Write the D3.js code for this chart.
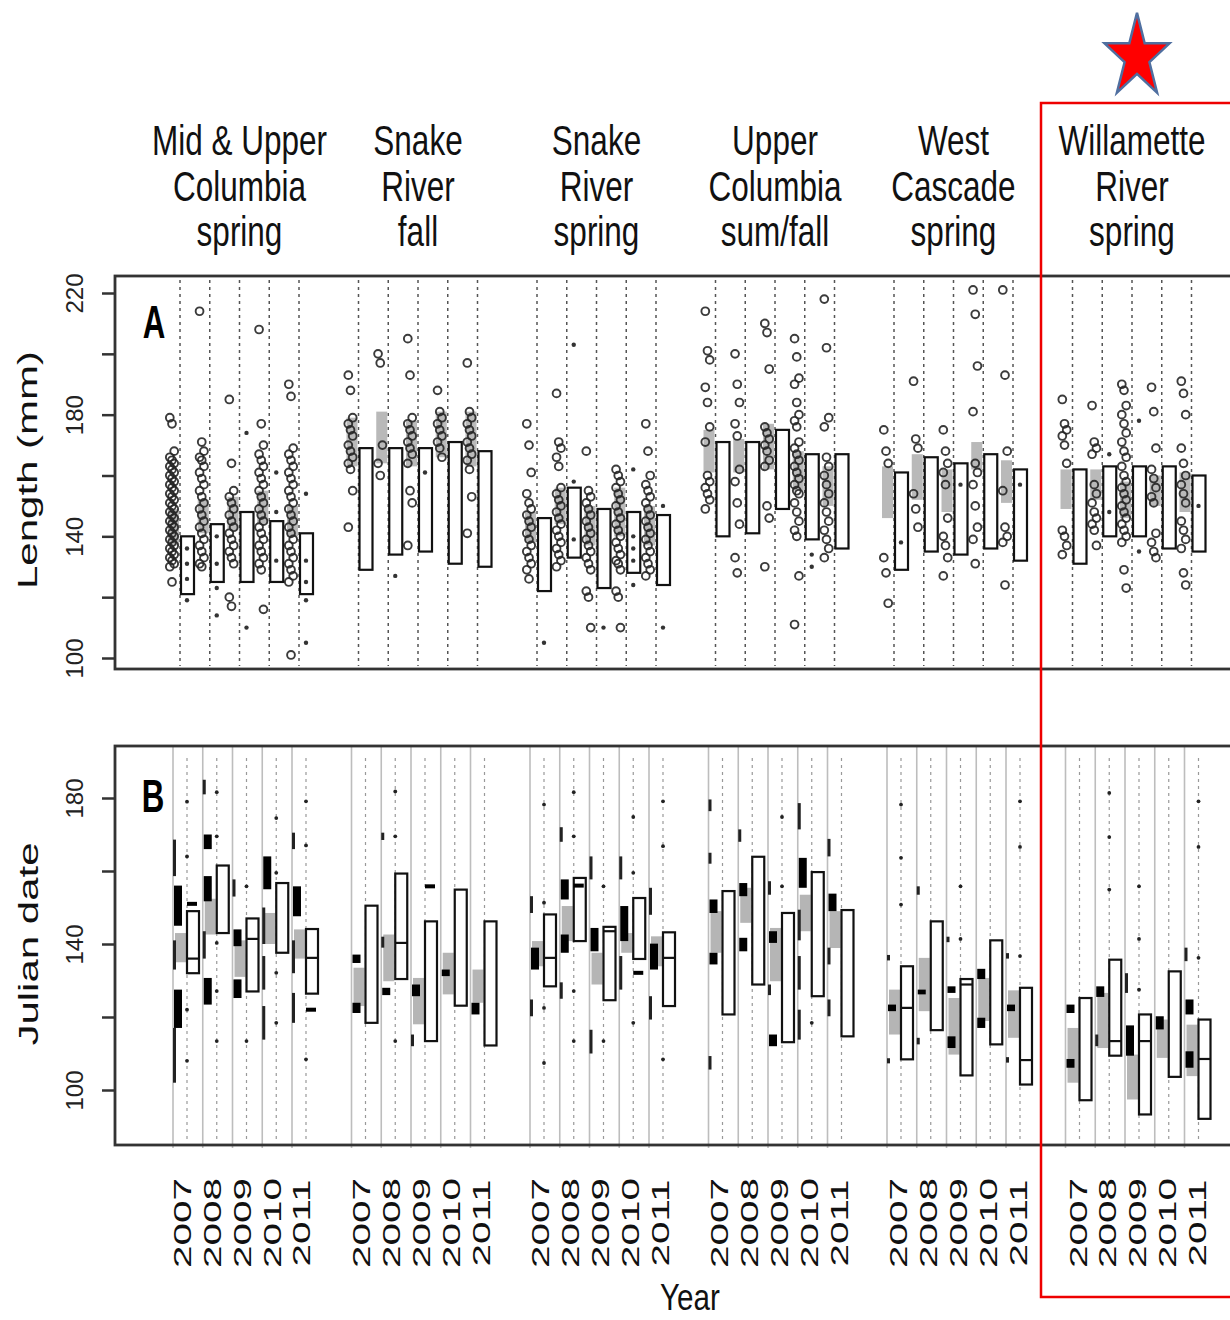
<!DOCTYPE html>
<html><head><meta charset="utf-8">
<script src="https://cdn.jsdelivr.net/npm/d3@7"></script>
<style>body{margin:0;background:#fff}svg{display:block}text{font-family:"Liberation Sans",Arial,Helvetica,sans-serif}</style>
</head><body><svg id="c" width="1230" height="1320"></svg>
<script>
// ---------- categories ----------
const groupTitles = [
  ["Mid & Upper","Columbia","spring"],
  ["Snake","River","fall"],
  ["Snake","River","spring"],
  ["Upper","Columbia","sum/fall"],
  ["West","Cascade","spring"],
  ["Willamette","River","spring"]
];
const years = ["2007","2008","2009","2010","2011"];
const yTicksA = [100,120,140,160,180,200,220];
const yLabelsA = [100,140,180,220];
const yTicksB = [100,120,140,160,180];
const yLabelsB = [100,140,180];

// ---------- Panel A: Length (mm) ----------
const grayA = [
  [137,149],[141,152],[142,153],[144,155],[140,150],
  [163,179],[164,181],[163,178],[166,181],[163,181],
  [138,148],[144,156],[137,150],[140,156],[137,150],
  [161,175],[161,172],[162,177],[155,168],[150,163],
  [146,163],[152,167],[148,162],[162,171],[151,165],
  [149,162],[152,162],[146,158],[150,160],[148,161]
];
const whiteA = [
  [121,140],[125,144],[125,148],[125,145],[121,141],
  [129,169],[134,169],[135,169],[131,171],[130,168],
  [122,146],[133,156],[123,149],[128,148],[124,147],
  [140,171],[141,171],[149,175],[139,167],[136,167],
  [129,161],[135,166],[134,164],[136,167],[132,162],
  [131,162],[140,163],[140,163],[136,163],[135,160]
];
const circlesA = [
  [179,177,168,166,165,164,163,162,161,160,159,158,157,156,155,154,153,152,151,150,149,148,147,146,145,144,143,142,141,140,139,138,137,136,135,134,133,132,131,130,125],
  [214,171,168,166,165,163,161,159,157,155,153,151,149,147,145,143,141,139,137,135,133,131,130],
  [185,164,155,153,151,149,147,145,143,141,139,137,135,133,131,120,117],
  [208,177,170,167,165,163,161,159,157,155,153,151,149,147,145,143,141,139,137,135,133,131,129,116],
  [190,186,169,167,165,163,161,159,157,155,153,151,149,147,145,143,141,139,137,135,133,131,129,127,125,101],
  [193,188,179,177,175,173,170,168,166,164,162,155,143],
  [200,197,170,164,160],
  [205,193,179,177,175,173,171,169,167,164,155,151,137],
  [188,181,179,177,175,173,171,169,166],
  [197,181,179,177,175,173,171,169,167,165,162,153,141],
  [177,170,161,154,151,149,147,145,143,141,139,137,135,133,131,129,126],
  [187,171,169,166,163,156,154,152,150,148,146,144,142,140,138,136,134,132,130],
  [168,155,153,151,149,147,145,143,141,139,137,135,133,131,129,122,120,110],
  [162,160,158,156,154,152,150,148,146,144,142,140,138,136,134,132,131,129,122,120,110],
  [177,168,160,157,155,153,151,149,147,145,143,141,139,137,135,133,131,129,127],
  [214,201,198,189,184,176,171,160,158,156,154,152,149],
  [200,190,184,177,173,162,158,151,144,133,128],
  [210,207,195,176,174,172,170,168,165,163,150,146,130],
  [205,199,192,190,184,180,178,176,171,169,167,165,163,161,159,157,155,154,151,148,145,142,140,127,111],
  [218,202,179,176,166,163,160,157,154,151,148,145,142,139,136,133],
  [175,168,164,133,128,118],
  [191,172,169,154,149,143],
  [175,168,164,161,157,146,140,137,133,127],
  [221,213,196,181,164,161,157,150,143,139,131],
  [221,193,168,155,143,140,138,124],
  [185,177,175,173,170,164,142,140,137,134],
  [183,171,169,167,157,154,151,148,146,144,142,137],
  [190,188,183,180,177,174,171,168,166,163,160,158,156,154,152,150,148,146,144,142,140,138,129,123],
  [189,181,169,162,159,156,153,151,141,138,135,133],
  [191,187,180,169,164,160,157,154,151,145,142,139,136,128,124]
];
const dotsA = [
  [136,131,126,119],[140,131,123,114],[174,110],[161,148,132],[154,132,125,119,105],
  [],[127],[161],[],[],
  [105],[203,158,139],[110],[162,140,136,132,124],[150,110],
  [],[],[],[134,130],[],
  [138],[],[157],[],[157],
  [],[167,148],[178,135],[],[150]
];

// ---------- Panel B: Julian date ----------
const grayB = [
  [135,143],[142.6,152.4],[131,141],[140,148.5],[136,144],
  [123,133.5],[129.8,142.6],[118,130.7],[126.2,137.6],[123.9,133],
  [133.9,140.8],[140.8,150.4],[128.9,137.6],[137.6,143],[133.9,142.1],
  [137.6,149],[145.8,155.4],[129.8,144.4],[143.5,153.5],[138.9,149],
  [115.2,127.5],[121.6,136.2],[109.7,125.2],[118.9,130.7],[114.3,127.3],
  [102,117],[111.5,126.6],[97.4,109.7],[108.8,119.3],[103.8,117.9]
];
const whiteB = [
  [132,149],[143,161.5],[127,147],[137.6,156.7],[126.4,144.1],
  [118.4,150.5],[130.4,159.3],[113.4,146.2],[123.1,154.9],[112.2,146.2],
  [128.4,148.1],[140.8,158.1],[124.6,144.7],[135.9,152.6],[123,143.2],
  [120.7,154.5],[128.9,163.9],[113.1,148.5],[125.7,159.7],[114.7,149.3],
  [108.4,133.9],[116.4,146.2],[104,130.4],[112.5,141],[101.5,128],
  [97.2,125.2],[109.4,135.7],[93.3,120.7],[103.6,132.5],[92.1,119.3]
];
const medianB = [
  136,null,141.4,null,136.2,
  null,140.3,null,null,null,
  136.2,null,143.5,null,136.2,
  null,null,null,null,null,
  122.5,null,128.9,null,108.2,
  null,113.4,113.4,null,108.5
];
const thickB = [
  [[145,156],[117,127.5]],[[151.7,158.6],[123.4,130.7],[166,170]],[[139.4,144],[125.2,130.3]],[[155,164]],[[147.6,155.8]],
  [[134.8,137.1],[121.1,123.9]],[[126,128]],[[125.7,128.9]],[[131.2,133]],[[120.7,123.9]],
  [[133,139]],[[152.2,157.7],[137.6,142.6]],[[138,144.4]],[[140.8,150.4]],[[133,140.1]],
  [[148.5,152.2],[134.4,137.6]],[[153.1,156.7],[138,141.7]],[[140.3,143.5],[112,115.2]],[[155.4,163.6]],[[149,153.8]],
  [[121.6,123.4]],[[126.2,127.5]],[[126.6,128.4],[111.5,114.7]],[[130.4,133.2],[117,119.8]],[[121.6,123.4]],
  [[121.1,123.4],[106.1,108.5]],[[125.5,128.4]],[[109.4,117.7]],[[116.6,120.2]],[[120.7,124.8],[106.1,110.6]]
];
const thinB = [
  [[158.6,168.6],[133,141],[102,117]],[[181,185],[136,143.5]],[[153,157.7]],[[140,150],[127.5,136.7],[113.8,123]],[[166,170.5],[132,141],[118.4,126.6]],
  [],[[168.5,170.5],[139,142]],[[112,115.2]],[],[],
  [[148.5,153.1],[120.2,124.8]],[[168,172],[125,129.5]],[[157.7,164],[110,116.5]],[[157.7,164],[127.5,136.7]],[[148,155.4],[119.3,125.7]],
  [[176.4,179.6],[162,165],[105.6,109.3]],[[168,171.4]],[[153.5,157.2],[126,128.9]],[[171.4,178.6],[141,149.4],[127.5,136.7],[113.8,122]],[[164,168.8],[134.4,139],[120.2,124.8]],
  [[135.5,137],[107.3,108.7]],[[153.5,155.8],[112.5,114.3]],[[140.5,142]],[],[[136,137.5],[107.5,109]],
  [],[[112,115.2]],[[126.6,132]],[],[[135.3,139]]
];
const barsB = [
  [151],[],[],[],[122],
  [],[],[155.8],[],[],
  [],[156],[],[132.1],[],
  [],[],[],[],[],
  [],[],[],[],[],
  [],[],[],[],[]
];
const dotsB = [
  [179,164,122,108],[181.6,169.5,140.3,127.1,113.4],[155.8,113.4],[174.5,159.5,132.1,118.4],[179.1,167,108.4],
  [],[181.8,169.5,113.4],[],[],[],
  [178.2,151.3,122.5,107.4],[181.6,169.5,127.1,113.4],[155.8,113.4],[174.8,159.5,118.4],[179.1,166.8,108.4],
  [],[],[174.8,155.8],[118.4],[],
  [178.2,163.6,150.8],[],[155.8,141.4],[],[179.1,166.6,136.7],
  [],[181.4,169.3,154.9],[155.8,141.4,127.5],[],[179.1,166.6,136.2]
];

// ---------- scales ----------
const svg = d3.select("#c");
svg.append("rect").attr("width",1230).attr("height",1320).attr("fill","#fff");
const x = d3.scaleLinear().domain([0,34]).range([180,1191.5]);
const xLab = d3.scaleLinear().domain([0,34]).range([182.5,1197.5]);
const yA = d3.scaleLinear().domain([100,220]).range([658,293]);
const yB = d3.scaleLinear().domain([100,180]).range([1090,798]);
const pos = k => Math.floor(k/5)*6 + (k%5);
const left = 115;
const PA = {top:276, bottom:669}, PB = {top:746, bottom:1145};
const slots = d3.range(30);

// ---------- titles ----------
groupTitles.forEach((lines,g)=>{
  lines.forEach((t,i)=>{
    svg.append("text").text(t)
      .attr("transform",`translate(${x(g*6+2)},${155+i*45.5}) scale(0.75,1)`)
      .attr("text-anchor","middle").attr("font-size",42).attr("fill","#111");
  });
});

// ---------- Panel A ----------
const gA = svg.append("g");
gA.selectAll("line.dA").data(slots).join("line")
  .attr("x1",k=>x(pos(k))).attr("x2",k=>x(pos(k)))
  .attr("y1",PA.top+4).attr("y2",PA.bottom-3)
  .attr("stroke","#555").attr("stroke-width",1.5).attr("stroke-dasharray","3,4");
gA.selectAll("rect.gA").data(slots).join("rect")
  .attr("x",k=>x(pos(k))-12).attr("width",11)
  .attr("y",k=>yA(grayA[k][1])).attr("height",k=>yA(grayA[k][0])-yA(grayA[k][1]))
  .attr("fill","#b9b9b9");
slots.forEach(k=>{
  circlesA[k].forEach((v,i)=>{
    gA.append("circle").attr("cx",x(pos(k))-8+((i%3)-1)*2.2).attr("cy",yA(v)).attr("r",3.9)
      .attr("fill","none").attr("stroke","#262626").attr("stroke-width",1.9).attr("stroke-opacity",0.9);
  });
});
gA.selectAll("rect.wA").data(slots).join("rect")
  .attr("x",k=>x(pos(k))+1).attr("width",13)
  .attr("y",k=>yA(whiteA[k][1])).attr("height",k=>yA(whiteA[k][0])-yA(whiteA[k][1]))
  .attr("fill","#fff").attr("stroke","#111").attr("stroke-width",2.2);
slots.forEach(k=>{
  dotsA[k].forEach(v=>{
    gA.append("circle").attr("cx",x(pos(k))+7).attr("cy",yA(v)).attr("r",2.2).attr("fill","#333");
  });
});
svg.append("rect").attr("x",left).attr("y",PA.top).attr("width",1240-left).attr("height",PA.bottom-PA.top)
  .attr("fill","none").attr("stroke","#333").attr("stroke-width",2.8);

// ---------- Panel B ----------
const gB = svg.append("g");
gB.selectAll("line.sB").data(slots).join("line")
  .attr("x1",k=>x(pos(k))-7).attr("x2",k=>x(pos(k))-7)
  .attr("y1",PB.top).attr("y2",PB.bottom+3)
  .attr("stroke","#bdbdbd").attr("stroke-width",1.6);
gB.selectAll("line.dB").data(slots).join("line")
  .attr("x1",k=>x(pos(k))+7).attr("x2",k=>x(pos(k))+7)
  .attr("y1",PB.top+12).attr("y2",PB.bottom-3)
  .attr("stroke","#999").attr("stroke-width",1.2).attr("stroke-dasharray","3,4");
gB.selectAll("rect.gB").data(slots).join("rect")
  .attr("x",k=>x(pos(k))-5).attr("width",11)
  .attr("y",k=>yB(grayB[k][1])).attr("height",k=>yB(grayB[k][0])-yB(grayB[k][1]))
  .attr("fill","#b5b5b5");
slots.forEach(k=>{
  thinB[k].forEach(s=>{
    gB.append("rect").attr("x",x(pos(k))-7).attr("width",3)
      .attr("y",yB(s[1])).attr("height",yB(s[0])-yB(s[1])).attr("fill","#222");
  });
  thickB[k].forEach(s=>{
    gB.append("rect").attr("x",x(pos(k))-6).attr("width",8)
      .attr("y",yB(s[1])).attr("height",Math.max(4,yB(s[0])-yB(s[1]))).attr("fill","#000");
  });
});
gB.selectAll("rect.wB").data(slots).join("rect")
  .attr("x",k=>x(pos(k))+7).attr("width",12)
  .attr("y",k=>yB(whiteB[k][1])).attr("height",k=>yB(whiteB[k][0])-yB(whiteB[k][1]))
  .attr("fill","#fff").attr("stroke","#111").attr("stroke-width",2.2);
slots.filter(k=>medianB[k]!==null).forEach(k=>{
  gB.append("line").attr("x1",x(pos(k))+7).attr("x2",x(pos(k))+19)
    .attr("y1",yB(medianB[k])).attr("y2",yB(medianB[k])).attr("stroke","#111").attr("stroke-width",2.2);
});
slots.forEach(k=>{
  barsB[k].forEach(v=>{
    gB.append("rect").attr("x",x(pos(k))+7).attr("width",10).attr("y",yB(v)-2).attr("height",4).attr("fill","#000");
  });
  dotsB[k].forEach(v=>{
    gB.append("circle").attr("cx",x(pos(k))+7).attr("cy",yB(v)).attr("r",1.9).attr("fill","#222");
  });
});
svg.append("rect").attr("x",left).attr("y",PB.top).attr("width",1240-left).attr("height",PB.bottom-PB.top)
  .attr("fill","none").attr("stroke","#333").attr("stroke-width",2.8);

// ---------- Y axes ----------
function yAxis(scale, ticks, labels){
  const ax = d3.axisLeft(scale).tickValues(ticks).tickSize(13)
    .tickFormat(d => labels.includes(d) ? String(d) : "");
  const g = svg.append("g").attr("transform",`translate(${left},0)`).call(ax)
    .attr("font-family",null).attr("font-size",null);
  g.select(".domain").remove();
  g.selectAll(".tick line").attr("stroke","#333").attr("stroke-width",2.5);
  g.selectAll(".tick text").attr("x",0).attr("y",-32).attr("dy",0)
    .attr("transform","rotate(-90)").attr("text-anchor","middle")
    .attr("font-size",24).attr("fill","#222");
}
yAxis(yA, yTicksA, yLabelsA);
yAxis(yB, yTicksB, yLabelsB);

// ---------- axis titles & panel letters ----------
svg.append("text").text("Length (mm)").attr("transform","translate(37,470) rotate(-90) scale(1.5,1)")
  .attr("text-anchor","middle").attr("font-size",28).attr("fill","#111");
svg.append("text").text("Julian date").attr("transform","translate(38,944) rotate(-90) scale(1.5,1)")
  .attr("text-anchor","middle").attr("font-size",28).attr("fill","#111");
svg.append("text").text("Year").attr("transform","translate(690,1310) scale(0.8,1)")
  .attr("text-anchor","middle").attr("font-size",37).attr("fill","#111");
svg.append("text").text("A").attr("transform","translate(154,338) scale(0.68,1)")
  .attr("text-anchor","middle").attr("font-size",46).attr("font-weight","bold").attr("fill","#000");
svg.append("text").text("B").attr("transform","translate(153,812) scale(0.68,1)")
  .attr("text-anchor","middle").attr("font-size",46).attr("font-weight","bold").attr("fill","#000");

// ---------- year labels ----------
slots.forEach(k=>{
  svg.append("text").text(years[k%5])
    .attr("transform",`translate(${xLab(pos(k))+8.5},1223) rotate(-90) scale(1.69,1)`)
    .attr("text-anchor","middle").attr("font-size",24).attr("fill","#111");
});

// ---------- highlight ----------
svg.append("rect").attr("x",1041).attr("y",103).attr("width",220).attr("height",1194)
  .attr("fill","none").attr("stroke","#ee0000").attr("stroke-width",2.5);
const R = 34.2, r = R*0.382, cx = 1137, cy = 57, sy = 1.29;
const starPts = d3.range(10).map(i=>{
  const a = -Math.PI/2 + i*Math.PI/5, rr = i%2 ? r : R;
  return [cx + rr*Math.cos(a), cy + rr*Math.sin(a)*sy];
});
svg.append("polygon").attr("points",starPts.map(p=>p.join(",")).join(" "))
  .attr("fill","#ff0000").attr("stroke","#4f6fa0").attr("stroke-width",2.5).attr("stroke-linejoin","miter");
</script></body></html>
